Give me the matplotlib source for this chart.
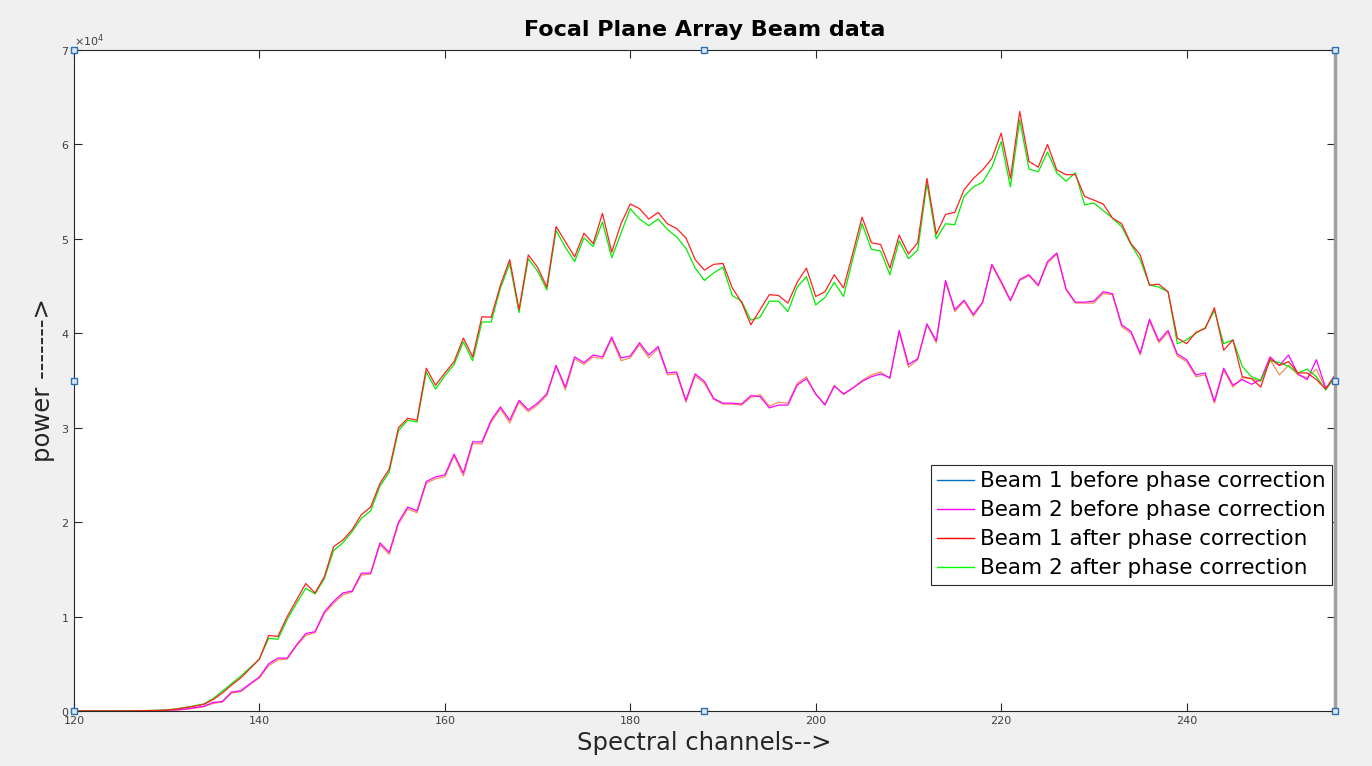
import numpy as np
import matplotlib
matplotlib.use('Agg')
import matplotlib.pyplot as plt
from matplotlib.lines import Line2D
from matplotlib.ticker import ScalarFormatter

channels = np.arange(120, 257)

# values in thousands
beam1_after = [0, 0, 0, 0, 0, 0, 0.02, 0.03, 0.04, 0.06,
               0.1, 0.2, 0.35, 0.5, 0.7, 1.2, 1.9, 2.75, 3.5, 4.5,
               5.5, 8.0, 7.9, 10.0, 11.75, 13.5, 12.5, 14.2, 17.4, 18.1,
               19.2, 20.8, 21.6, 24.1, 25.6, 30.0, 31.0, 30.8, 36.3, 34.5,
               35.8, 37.0, 39.5, 37.5, 41.75, 41.7, 45.1, 47.8, 42.5, 48.3,
               47.0, 44.9, 51.3, 49.7, 48.1, 50.6, 49.5, 52.7, 48.6, 51.6,
               53.7, 53.2, 52.1, 52.8, 51.6, 51.1, 50.1, 47.8, 46.7, 47.3,
               47.4, 44.8, 43.3, 40.9, 42.5, 44.1, 44.0, 43.2, 45.4, 46.9,
               43.9, 44.4, 46.2, 44.8, 48.5, 52.3, 49.6, 49.4, 46.9, 50.4,
               48.4, 49.6, 56.4, 50.5, 52.6, 52.8, 55.2, 56.4, 57.3, 58.5,
               61.2, 56.4, 63.5, 58.2, 57.6, 60.0, 57.3, 56.8, 56.8, 54.5,
               54.1, 53.7, 52.2, 51.6, 49.5, 48.3, 45.1, 45.2, 44.4, 39.5,
               38.9, 40.1, 40.5, 42.7, 38.2, 39.3, 35.4, 35.2, 34.3, 37.3,
               36.6, 37.0, 35.8, 35.8, 35.1, 34.1, 35.6]

beam1_before = [0, 0, 0, 0, 0, 0, 0.02, 0.03, 0.05, 0.07,
                0.12, 0.22, 0.38, 0.55, 0.75, 1.3, 2.1, 2.9, 3.7, 4.6,
                5.5, 7.7, 7.6, 9.7, 11.4, 13.0, 12.4, 14.0, 17.0, 17.8,
                19.0, 20.4, 21.2, 23.8, 25.3, 29.7, 30.8, 30.6, 35.9, 34.1,
                35.5, 36.7, 39.1, 37.1, 41.2, 41.2, 44.8, 47.4, 42.2, 47.9,
                46.6, 44.6, 50.9, 49.1, 47.6, 50.1, 49.2, 51.8, 48.0, 50.6,
                53.2, 52.1, 51.4, 52.1, 51.0, 50.2, 49.0, 46.9, 45.6, 46.4,
                47.0, 44.0, 43.4, 41.4, 41.7, 43.4, 43.4, 42.3, 44.9, 46.0,
                43.0, 43.8, 45.4, 43.9, 47.9, 51.6, 48.9, 48.7, 46.2, 49.8,
                47.9, 48.8, 55.9, 50.0, 51.6, 51.5, 54.5, 55.5, 56.0, 57.6,
                60.3, 55.5, 62.6, 57.4, 57.1, 59.2, 57.0, 56.1, 57.0, 53.6,
                53.8, 53.0, 52.2, 51.3, 49.4, 47.8, 45.1, 44.9, 44.4, 38.9,
                39.3, 40.0, 40.6, 42.4, 38.9, 39.3, 36.5, 35.4, 35.0, 37.1,
                36.9, 36.5, 35.8, 36.2, 35.4, 34.0, 35.4]

beam2_after = [0, 0, 0, 0, 0, 0, 0.01, 0.02, 0.03, 0.05,
               0.08, 0.12, 0.2, 0.35, 0.5, 0.9, 1.0, 2.0, 2.15, 2.9,
               3.6, 5.0, 5.6, 5.6, 7.0, 8.2, 8.4, 10.5, 11.6, 12.5,
               12.7, 14.6, 14.6, 17.8, 16.8, 20.0, 21.6, 21.2, 24.3, 24.8,
               25.0, 27.2, 25.2, 28.5, 28.5, 30.8, 32.2, 30.8, 32.9, 31.9,
               32.6, 33.6, 36.6, 34.3, 37.5, 36.9, 37.7, 37.5, 39.6, 37.4,
               37.6, 39.0, 37.7, 38.6, 35.8, 35.9, 32.9, 35.7, 34.9, 33.1,
               32.6, 32.6, 32.5, 33.4, 33.3, 32.1, 32.4, 32.4, 34.5, 35.2,
               33.6, 32.4, 34.4, 33.6, 34.2, 34.9, 35.4, 35.7, 35.3, 40.3,
               36.7, 37.3, 41.0, 39.2, 45.6, 42.5, 43.5, 42.0, 43.3, 47.3,
               45.5, 43.5, 45.7, 46.2, 45.1, 47.6, 48.5, 44.7, 43.3, 43.3,
               43.4, 44.4, 44.2, 40.9, 40.2, 37.9, 41.5, 39.2, 40.3, 37.8,
               37.2, 35.6, 35.8, 32.8, 36.3, 34.5, 35.1, 34.6, 35.1, 37.5,
               36.6, 37.7, 35.7, 35.1, 37.2, 34.2, 35.2]

beam2_before = [0, 0, 0, 0, 0, 0, 0.01, 0.02, 0.03, 0.04,
                0.07, 0.1, 0.18, 0.3, 0.45, 0.8, 0.95, 1.9, 2.05, 2.8,
                3.5, 4.8, 5.4, 5.5, 6.9, 8.0, 8.3, 10.3, 11.4, 12.3,
                12.6, 14.4, 14.5, 17.6, 16.6, 19.8, 21.4, 21.0, 24.1, 24.6,
                24.8, 27.0, 24.9, 28.3, 28.3, 30.6, 32.0, 30.5, 32.7, 31.7,
                32.4, 33.4, 36.5, 34.0, 37.3, 36.7, 37.5, 37.3, 39.4, 37.1,
                37.4, 38.8, 37.4, 38.4, 35.6, 35.7, 32.7, 35.5, 34.7, 33.0,
                32.5, 32.5, 32.4, 33.2, 33.5, 32.3, 32.7, 32.6, 34.7, 35.4,
                33.5, 32.5, 34.5, 33.5, 34.2, 35.0, 35.6, 35.9, 35.2, 40.1,
                36.4, 37.2, 40.9, 39.0, 45.4, 42.3, 43.4, 41.8, 43.2, 47.2,
                45.3, 43.4, 45.6, 46.1, 45.0, 47.4, 48.4, 44.6, 43.2, 43.2,
                43.2, 44.2, 44.1, 40.7, 40.0, 37.7, 41.3, 39.0, 40.1, 37.6,
                37.0, 35.4, 35.6, 32.6, 36.1, 34.3, 35.3, 35.2, 34.9, 37.2,
                35.6, 36.6, 35.6, 35.3, 36.2, 34.1, 35.4]

legend_labels = ['Beam 1 before phase correction',
                 'Beam 2 before phase correction',
                 'Beam 1 after phase correction',
                 'Beam 2 after phase correction']
legend_colors = ['#0072bd', '#ff00ff', '#ff0000', '#00ff00']

fig = plt.figure(figsize=(13.72, 7.66), dpi=100, facecolor='#f0f0f0')
ax = fig.add_axes([0.0539, 0.0718, 0.9191, 0.8629])

scale = 1000
ax.plot(channels, np.array(beam2_before) * scale, color='#f0905a', lw=0.9)
ax.plot(channels, np.array(beam2_after) * scale, color='#ff00ff', lw=0.9)
ax.plot(channels, np.array(beam1_before) * scale, color='#00ee00', lw=0.9)
ax.plot(channels, np.array(beam1_after) * scale, color='#ff2020', lw=0.9)

ax.set_xlim(120, 256)
ax.set_ylim(0, 70000)
ax.set_xticks(range(120, 241, 20))
ax.set_yticks(range(0, 70001, 10000))
fmt = ScalarFormatter(useMathText=True)
fmt.set_powerlimits((0, 0))
ax.yaxis.set_major_formatter(fmt)
ax.tick_params(direction='in', top=True, right=True, length=6,
               labelsize=8, colors='#262626', labelcolor='#404040')
for s in ax.spines.values():
    s.set_color('#262626')
    s.set_linewidth(0.8)
ax.spines['right'].set_color('#a0a0a0')
ax.spines['right'].set_linewidth(2.5)
ax.yaxis.get_offset_text().set_fontsize(8)
ax.yaxis.get_offset_text().set_color('#404040')

# edit-mode selection handles
hx = [0, 0.5, 1, 0, 1, 0, 0.5, 1]
hy = [0, 0, 0, 0.5, 0.5, 1, 1, 1]
ax.plot(hx, hy, ls='none', marker='s', ms=5, mfc='#d8e8f8', mec='#2f6fb0',
        mew=1, transform=ax.transAxes, clip_on=False, zorder=5)

ax.set_title('Focal Plane Array Beam data', fontsize=16, fontweight='bold', pad=10)
ax.set_xlabel('Spectral channels-->', fontsize=17.5, color='#262626', labelpad=4)
ax.set_ylabel('power ------->', fontsize=17.5, color='#262626', labelpad=4)

handles = [Line2D([], [], color=c, lw=1) for c in legend_colors]
leg = ax.legend(handles, legend_labels, loc='lower right',
                bbox_to_anchor=(0.998, 0.191), fontsize=15.5, frameon=True,
                fancybox=False, framealpha=1, edgecolor='#262626',
                handlelength=1.7, handletextpad=0.3, labelspacing=0.42,
                borderpad=0.3, borderaxespad=0)
leg.get_frame().set_linewidth(0.8)

plt.savefig('out.png', dpi=100, facecolor=fig.get_facecolor())
